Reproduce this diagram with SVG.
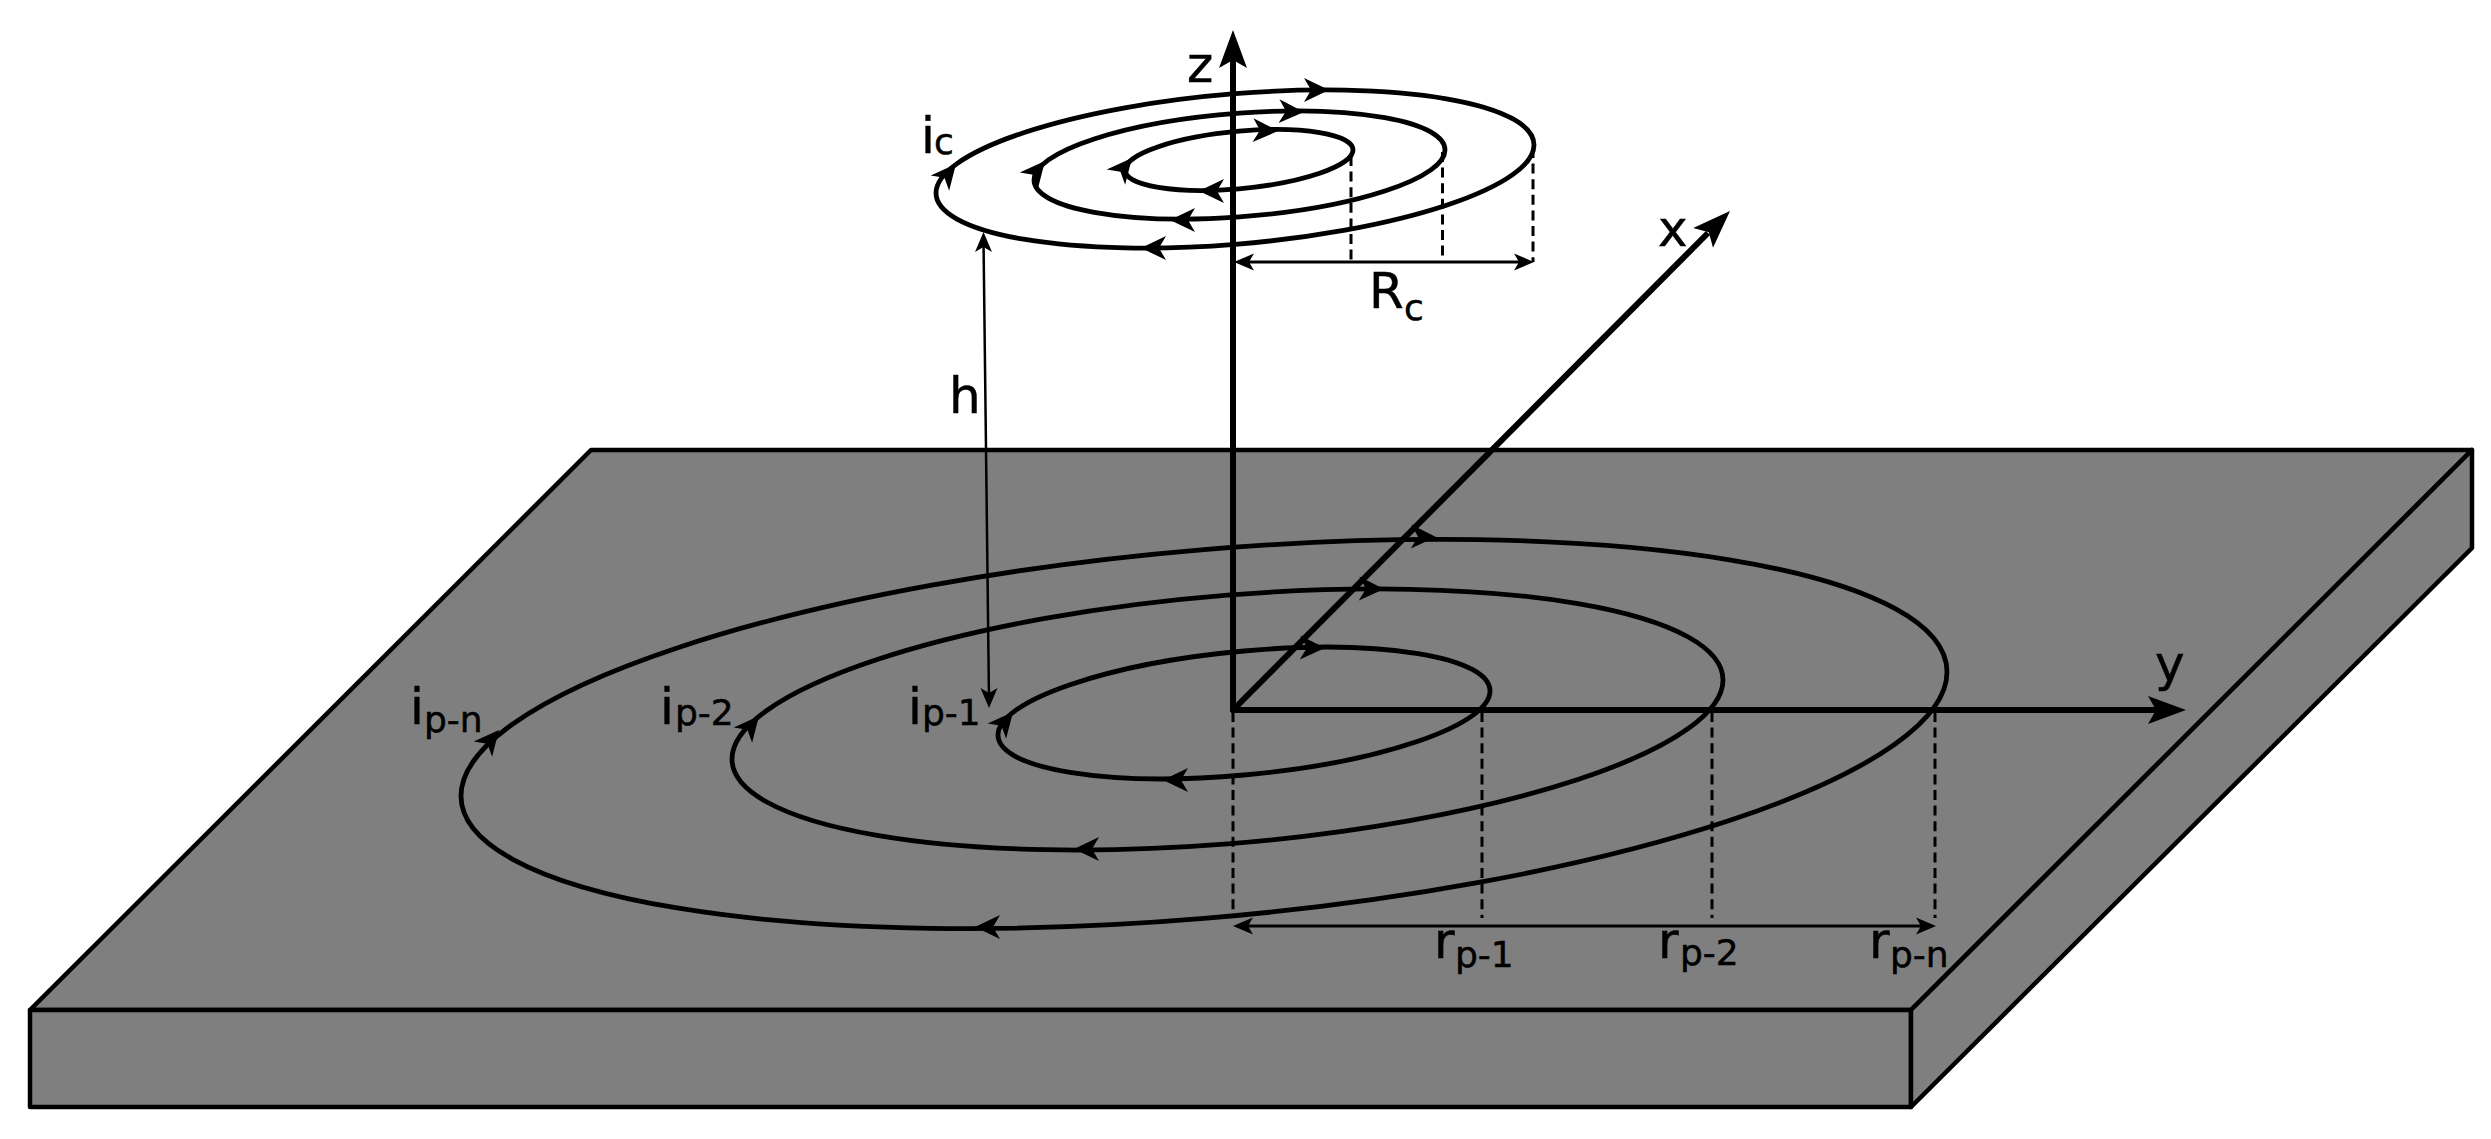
<svg xmlns="http://www.w3.org/2000/svg" width="2491" height="1139" viewBox="0 0 2491 1139">
<style>
.p{fill:#7f7f7f;stroke:#000;stroke-width:4.500;stroke-linejoin:round}
.ax{stroke:#000;stroke-width:6;fill:none}
.loop{fill:none;stroke:#000;stroke-width:4.800;vector-effect:non-scaling-stroke}
.dash{stroke:#000;stroke-width:3;stroke-dasharray:10 5.600;fill:none}
.dim{stroke:#000;stroke-width:3;fill:none}
text{font-family:"DejaVu Sans",sans-serif;fill:#000;font-size:50px;stroke:#000;stroke-width:.5}
.s{font-size:36px}
</style>
<defs>
<path id="big" d="M0 0L-38 -14L-30 0L-38 14Z"/>
<path id="cur" d="M0 0L-25 -12L-18 0L-25 12Z"/>
<path id="sm" d="M0 0L-20 -8.500L-15 0L-20 8.500Z"/>
</defs>
<g id="plate">
<path class="p" d="M591 450H2472L1911 1010H30Z"/>
<path class="p" d="M30 1010H1911V1107H30Z"/>
<path class="p" d="M1911 1010L2472 450V548L1911 1107Z"/>
</g>
<g id="connectors">
<g id="axes">
<path class="ax" d="M1233 712V60"/>
<path class="ax" d="M1231 710H2160"/>
<path class="ax" d="M1233 710L1708 233"/>
<use href="#big" transform="translate(1233 30) rotate(-90)"/>
<use href="#big" transform="translate(2186 710)"/>
<use href="#big" transform="translate(1730 211) rotate(-45)"/>
</g>
<g id="dimensions">
<path class="dash" d="M1233 712V918M1482 712V918M1712 712V918M1935 712V918"/>
<path class="dim" d="M1240 926H1928"/>
<use href="#sm" transform="translate(1233 926) rotate(180)"/>
<use href="#sm" transform="translate(1936 926)"/>
<path class="dash" d="M1351 156V262M1442.500 152V262M1533 148V262"/>
<path class="dim" d="M1240 262H1526"/>
<use href="#sm" transform="translate(1234 262) rotate(180)"/>
<use href="#sm" transform="translate(1534 262)"/>
<path class="dim" d="M983.500 240L989 700" style="stroke-width:2.500"/>
<use href="#sm" transform="translate(983.500 232) rotate(-90)"/>
<use href="#sm" transform="translate(989 708) rotate(90)"/>
</g>
<g id="coil-loops">
<circle class="loop" r="1" transform="matrix(114 -10 0 28.800 1239 160)"/>
<circle class="loop" r="1" transform="matrix(205.500 -15 0 51.900 1239.500 165)"/>
<circle class="loop" r="1" transform="matrix(299 -24 0 75.300 1235 169)"/>
<use href="#cur" transform="translate(1278 131) rotate(2)"/>
<use href="#cur" transform="translate(1304 112) rotate(2)"/>
<use href="#cur" transform="translate(1329 90) rotate(0)"/>
<use href="#cur" transform="translate(1199 191) rotate(180)"/>
<use href="#cur" transform="translate(1170 220) rotate(180)"/>
<use href="#cur" transform="translate(1141 248) rotate(180)"/>
<use href="#cur" transform="translate(1132 158) rotate(-50)"/>
<use href="#cur" transform="translate(1045 161) rotate(-50)"/>
<use href="#cur" transform="translate(956 164) rotate(-50)"/>
</g>
<g id="plate-loops">
<circle class="loop" r="1" transform="matrix(246 -22 0 62 1244 713)"/>
<circle class="loop" r="1" transform="matrix(495.500 -39.500 0 124.400 1227.500 719.500)"/>
<circle class="loop" r="1" transform="matrix(743 -62 0 184.400 1204 734)"/>
<use href="#cur" transform="translate(1325 648) rotate(1)"/>
<use href="#cur" transform="translate(1384 589) rotate(1)"/>
<use href="#cur" transform="translate(1436 537) rotate(1)"/>
<use href="#cur" transform="translate(1163 780) rotate(180)"/>
<use href="#cur" transform="translate(1074 849) rotate(180)"/>
<use href="#cur" transform="translate(975 927) rotate(180)"/>
<use href="#cur" transform="translate(1013 712) rotate(-50)"/>
<use href="#cur" transform="translate(759 716) rotate(-50)"/>
<use href="#cur" transform="translate(499 730) rotate(-50)"/>
</g>
</g>
<g id="labels">
<text id="label-z" x="1187" y="82">z</text>
<text id="label-x" x="1658" y="246">x</text>
<text id="label-y" x="2155" y="681">y</text>
<text id="label-h" x="949" y="413">h</text>
<g id="label-ic"><text x="921" y="153">i</text><text class="s" x="934" y="154">c</text></g>
<g id="label-rc"><text x="1369" y="308">R</text><text class="s" x="1404" y="320">c</text></g>
<g id="label-ipn"><text x="410" y="724">i</text><text class="s" x="424" y="732">p-n</text></g>
<g id="label-ip2"><text x="660" y="724">i</text><text class="s" x="675" y="725">p-2</text></g>
<g id="label-ip1"><text x="908" y="724">i</text><text class="s" x="922" y="725">p-1</text></g>
<g id="label-rp1"><text x="1434" y="958">r</text><text class="s" x="1455" y="967">p-1</text></g>
<g id="label-rp2"><text x="1658" y="958">r</text><text class="s" x="1680" y="965">p-2</text></g>
<g id="label-rpn"><text x="1869" y="958">r</text><text class="s" x="1890" y="967">p-n</text></g>
</g>
</svg>
